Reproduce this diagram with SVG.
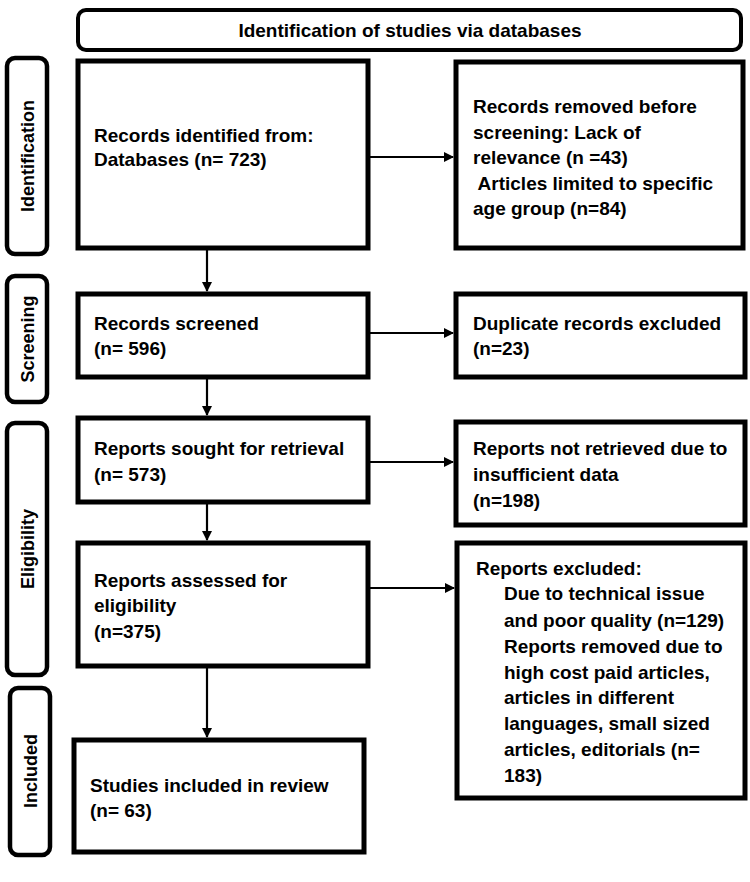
<svg xmlns="http://www.w3.org/2000/svg" width="750" height="882" viewBox="0 0 750 882">
<defs>
<marker id="ah" markerWidth="10" markerHeight="10" refX="9" refY="5" orient="auto" markerUnits="userSpaceOnUse">
<path d="M0,0 L10,5 L0,10 z" fill="#000"/>
</marker>
<style>
.box{fill:#fff;stroke:#000;stroke-width:5}
.side{fill:#fff;stroke:#000;stroke-width:4.5}
.hdr{fill:#fff;stroke:#000;stroke-width:4}
.t{font-family:"Liberation Sans Narrow","Liberation Sans",Arial,sans-serif;font-weight:bold;font-size:19px;fill:#000}
.s{font-family:"Liberation Sans",Arial,sans-serif;font-weight:bold;font-size:18px;fill:#000}
.c{stroke:#000;stroke-width:2.2;fill:none}
</style>
</defs>
<rect width="750" height="882" fill="#fff"/>
<g id="header">
<rect class="hdr" x="78" y="10" width="663" height="40" rx="8"/>
<text class="t" x="410" y="37" text-anchor="middle">Identification of studies via databases</text>
</g>
<g id="side-identification">
<rect class="side" x="7" y="58" width="40" height="196" rx="8"/>
<text class="s" transform="translate(34,156) rotate(-90)" text-anchor="middle">Identification</text>
</g>
<g id="side-screening">
<rect class="side" x="7" y="276" width="40" height="126" rx="8"/>
<text class="s" transform="translate(34,339) rotate(-90)" text-anchor="middle">Screening</text>
</g>
<g id="side-eligibility">
<rect class="side" x="7" y="423" width="40" height="252" rx="8"/>
<text class="s" transform="translate(34,549) rotate(-90)" text-anchor="middle">Eligibility</text>
</g>
<g id="side-included">
<rect class="side" x="10" y="688" width="40" height="167" rx="8"/>
<text class="s" transform="translate(37,771) rotate(-90)" text-anchor="middle">Included</text>
</g>
<g id="records-identified">
<rect class="box" x="78" y="61" width="290" height="187"/>
<text class="t" x="94" y="142">Records identified from:</text>
<text class="t" x="94" y="166">Databases (n= 723)</text>
</g>
<g id="records-removed">
<rect class="box" x="456" y="62" width="287" height="186"/>
<text class="t" x="473" y="113">Records removed before</text>
<text class="t" x="473" y="139">screening: Lack of</text>
<text class="t" x="473" y="164">relevance (n =43)</text>
<text class="t" x="473" y="190" xml:space="preserve"> Articles limited to specific</text>
<text class="t" x="473" y="215">age group (n=84)</text>
</g>
<g id="records-screened">
<rect class="box" x="78" y="294" width="290" height="83"/>
<text class="t" x="94" y="330">Records screened</text>
<text class="t" x="94" y="355">(n= 596)</text>
</g>
<g id="duplicates">
<rect class="box" x="456" y="294" width="289" height="83"/>
<text class="t" x="473" y="330">Duplicate records excluded</text>
<text class="t" x="473" y="355">(n=23)</text>
</g>
<g id="reports-sought">
<rect class="box" x="78" y="418" width="290" height="84"/>
<text class="t" x="94" y="455">Reports sought for retrieval</text>
<text class="t" x="94" y="481">(n= 573)</text>
</g>
<g id="not-retrieved">
<rect class="box" x="456" y="422" width="289" height="103"/>
<text class="t" x="473" y="455">Reports not retrieved due to</text>
<text class="t" x="473" y="481">insufficient data</text>
<text class="t" x="473" y="507">(n=198)</text>
</g>
<g id="reports-assessed">
<rect class="box" x="78" y="543" width="290" height="123"/>
<text class="t" x="94" y="587">Reports assessed for</text>
<text class="t" x="94" y="612">eligibility</text>
<text class="t" x="94" y="638">(n=375)</text>
</g>
<g id="reports-excluded">
<rect class="box" x="457" y="543" width="288" height="255"/>
<text class="t" x="476" y="575">Reports excluded:</text>
<text class="t" x="504" y="600">Due to technical issue</text>
<text class="t" x="504" y="627">and poor quality (n=129)</text>
<text class="t" x="504" y="653">Reports removed due to</text>
<text class="t" x="504" y="679">high cost paid articles,</text>
<text class="t" x="504" y="704">articles in different</text>
<text class="t" x="504" y="730">languages, small sized</text>
<text class="t" x="504" y="756">articles, editorials (n=</text>
<text class="t" x="504" y="782">183)</text>
</g>
<g id="studies-included">
<rect class="box" x="74" y="740" width="290" height="112"/>
<text class="t" x="90" y="792">Studies included in review</text>
<text class="t" x="90" y="817">(n= 63)</text>
</g>
<g id="connectors">
<line class="c" x1="207" y1="250" x2="207" y2="291" marker-end="url(#ah)"/>
<line class="c" x1="207" y1="379" x2="207" y2="415" marker-end="url(#ah)"/>
<line class="c" x1="207" y1="504" x2="207" y2="540" marker-end="url(#ah)"/>
<line class="c" x1="207" y1="668" x2="207" y2="737" marker-end="url(#ah)"/>
<line class="c" x1="370" y1="157" x2="453" y2="157" marker-end="url(#ah)"/>
<line class="c" x1="370" y1="333" x2="453" y2="333" marker-end="url(#ah)"/>
<line class="c" x1="370" y1="462" x2="453" y2="462" marker-end="url(#ah)"/>
<line class="c" x1="370" y1="588" x2="454" y2="588" marker-end="url(#ah)"/>
</g>
</svg>
